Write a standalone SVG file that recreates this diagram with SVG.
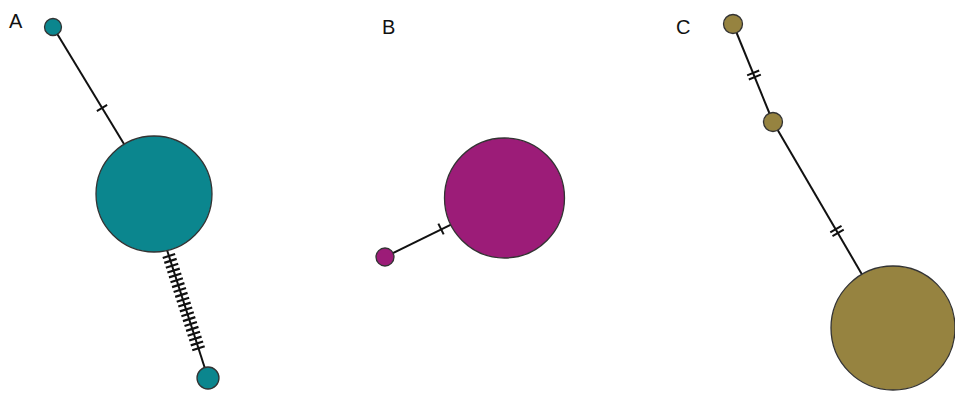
<svg xmlns="http://www.w3.org/2000/svg" width="955" height="403" viewBox="0 0 955 403">
<style>
.lbl{font-family:"Liberation Sans",Arial,sans-serif;font-size:20px;fill:#111}
.edge{stroke:#111;stroke-width:2;fill:none}
.tick{stroke:#111;stroke-width:2;fill:none}
.node{stroke:#333;stroke-width:1.3}
.a{fill:#0B868E}.b{fill:#9C1C78}.c{fill:#968340}
</style>
<rect width="955" height="403" fill="#fff"/>
<text class="lbl" x="9" y="28">A</text>
<text class="lbl" x="382" y="34">B</text>
<text class="lbl" x="676" y="34">C</text>
<g id="connectors">
  <line class="edge" x1="53" y1="27" x2="124" y2="144"/>
  <g transform="translate(102,108) rotate(58.8)" class="tick"><path d="M0-6v12"/></g>
  <line class="edge" x1="167" y1="250" x2="208" y2="378"/>
  <g transform="translate(167,250) rotate(72.24)" class="tick">
    <path d="M6.3-6.5v13M11.4-6.5v13M16.5-6.5v13M21.6-6.5v13M26.7-6.5v13M31.8-6.5v13M36.9-6.5v13M42-6.5v13M47.1-6.5v13M52.2-6.5v13M57.3-6.5v13M62.4-6.5v13M67.5-6.5v13M72.6-6.5v13M77.7-6.5v13M82.8-6.5v13M87.9-6.5v13M93-6.5v13M98.1-6.5v13M103.2-6.5v13" stroke-width="2.2"/>
  </g>
  <line class="edge" x1="385" y1="257" x2="451" y2="224.6"/>
  <g transform="translate(441,229) rotate(-26.3)" class="tick"><path d="M0-6v12"/></g>
  <line class="edge" x1="733" y1="24" x2="773" y2="122"/>
  <line class="edge" x1="773" y1="122" x2="862" y2="274.4"/>
  <g transform="translate(754,75) rotate(67.8)" class="tick">
    <path d="M-2.2-6.5v13M2.2-6.5v13"/>
  </g>
  <g transform="translate(837,231) rotate(59.8)" class="tick">
    <path d="M-2.2-6.5v13M2.2-6.5v13"/>
  </g>
</g>
<g id="A1"><circle class="node a" cx="53" cy="27" r="8.5"/></g>
<g id="A2"><circle class="node a" cx="154" cy="194" r="58"/></g>
<g id="A3"><circle class="node a" cx="208" cy="378" r="11"/></g>
<g id="B1"><circle class="node b" cx="504.5" cy="198" r="60"/></g>
<g id="B2"><circle class="node b" cx="385" cy="257" r="9"/></g>
<g id="C1"><circle class="node c" cx="733" cy="24" r="9.5"/></g>
<g id="C2"><circle class="node c" cx="773" cy="122" r="9.5"/></g>
<g id="C3"><circle class="node c" cx="893" cy="328" r="62"/></g>
</svg>
